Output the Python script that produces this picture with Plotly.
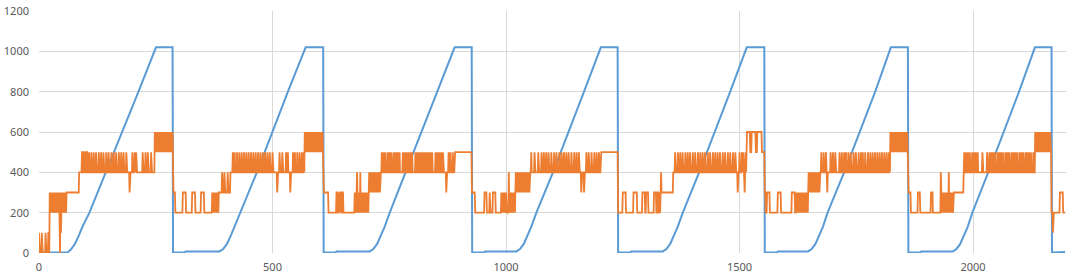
import numpy as np
import plotly.graph_objects as go

# ---- Blue series: polyline vertices (x, value) ----
BLUE_X = [0, 61, 69, 77, 85, 93, 108, 143.5, 213, 250.5, 286,
          287, 312, 314, 386.5, 394.5, 402.5, 410.5, 418.5, 431, 466.5, 533, 571, 608.5,
          609.5, 635, 637, 708, 716, 724, 732, 740, 751, 785, 853, 890, 926.5,
          927.5, 953, 955, 1022, 1030, 1038, 1046, 1054, 1065, 1100.5, 1167, 1203, 1239,
          1240, 1266, 1268, 1335.5, 1343.5, 1351.5, 1359.5, 1367.5, 1378.5, 1413.5, 1480, 1515.5, 1553,
          1554, 1580, 1582, 1646.5, 1654.5, 1662.5, 1670.5, 1678.5, 1688.5, 1724, 1790.5, 1824, 1860.5,
          1861.5, 1887, 1889, 1956.5, 1964.5, 1972.5, 1980.5, 1988.5, 1998.5, 2032.5, 2098.5, 2132.5, 2168,
          2169, 2197]
BLUE_Y = [2, 2, 20, 45, 85, 130, 200, 400, 800, 1020, 1020,
          2, 2, 8, 8, 20, 45, 85, 130, 200, 400, 800, 1020, 1020,
          2, 2, 8, 8, 20, 45, 85, 130, 200, 400, 800, 1020, 1020,
          2, 2, 8, 8, 20, 45, 85, 130, 200, 400, 800, 1020, 1020,
          2, 2, 8, 8, 20, 45, 85, 130, 200, 400, 800, 1020, 1020,
          2, 2, 8, 8, 20, 45, 85, 130, 200, 400, 800, 1020, 1020,
          2, 2, 8, 8, 20, 45, 85, 130, 200, 400, 800, 1020, 1020,
          2, 5]

# ---- Orange series: base level runs (start x, level) ----
ORANGE_LAST_X = 2197
RUN_X = [0, 23, 60, 86, 248, 287, 292,
         386, 410, 569, 609,
         620, 707, 732, 890, 927,
         934, 1021, 1052, 1204, 1240,
         1333, 1358, 1515, 1554,
         1556, 1648, 1673, 1823, 1861,
         1867, 1958, 1980, 2133, 2168]
RUN_Y = [0, 200, 300, 400, 500, 300, 200,
         300, 400, 500, 300,
         200, 300, 400, 500, 300,
         200, 300, 400, 500, 200,
         300, 400, 500, 300,
         200, 300, 400, 500, 300,
         200, 300, 400, 500, 200]

# ---- Orange single samples that leave the base level ----
DEV_0 = [45]
DEV_100 = [0, 6, 14, 20, 21, 47, 2171]
DEV_300 = [23, 25, 27, 29, 31, 33, 35, 37, 39, 41, 43, 46, 49, 51, 53, 55, 57, 59, 194,
           308, 309, 310, 311, 312, 313, 314, 328, 329, 330, 331, 332, 333, 334,
           347, 348, 349, 350, 351, 352, 353, 371, 373, 375, 377, 379, 381, 383, 385, 510, 538,
           637, 638, 639, 642, 645, 646, 647, 650, 651, 676, 678, 680, 682, 684, 686, 690, 692,
           694, 696, 698, 700, 702, 704, 706, 872,
           954, 955, 956, 957, 958, 965, 972, 973, 974, 975, 976, 977, 990, 992, 994, 996, 998,
           1000, 1008, 1010, 1012, 1014, 1016, 1018, 1020, 1161, 1167,
           1250, 1251, 1252, 1253, 1254, 1255, 1256, 1273, 1274, 1275, 1276, 1277, 1278, 1279,
           1280, 1292, 1293, 1294, 1295, 1296, 1297, 1300, 1301, 1302, 1303, 1304, 1317, 1318,
           1319, 1320, 1321, 1324, 1325, 1326, 1329, 1331, 1496, 1511,
           1559, 1560, 1561, 1562, 1563, 1564, 1582, 1583, 1584, 1585, 1586, 1587, 1588, 1612,
           1613, 1614, 1615, 1616, 1617, 1618, 1621, 1623, 1625, 1627, 1629, 1631, 1633, 1635,
           1637, 1639, 1641, 1643, 1645, 1647, 1688,
           1882, 1883, 1884, 1885, 1886, 1910, 1911, 1912, 1913, 1932, 1934, 1936, 1938, 1940,
           1942, 1944, 1946, 1950, 1952, 1954, 1956, 2186, 2187, 2188, 2189, 2190, 2191, 2192]
DEV_400 = [392, 397, 404,
           681, 688, 707, 709, 711, 713, 715, 717, 719, 721, 723, 725, 727, 729, 731,
           1006, 1021, 1023, 1025, 1027, 1029, 1031, 1033, 1035, 1037, 1039, 1041, 1043, 1045,
           1047, 1049, 1051,
           1332,
           1648, 1650, 1652, 1654, 1656, 1658, 1660, 1662, 1664, 1666, 1668, 1670, 1672,
           1931, 1948]
DEV_500 = [92, 93, 97, 98, 102, 103, 107, 112, 117, 122, 128, 133, 138, 144, 149, 155, 160,
           165, 171, 176, 181, 187, 200, 205, 208, 222, 228, 233, 240,
           415, 419, 424, 429, 434, 439, 444, 449, 454, 459, 464, 469, 474, 479, 484, 489, 494,
           500, 515, 521, 529, 533, 544, 548, 553, 558, 563, 567,
           734, 738, 742, 747, 751, 755, 760, 764, 768, 772, 779, 783, 787, 791, 795, 799, 806,
           810, 814, 818, 822, 826, 830, 834, 838, 842, 849, 853, 857, 861, 865, 877, 881, 886,
           1054, 1061, 1069, 1076, 1081, 1086, 1091, 1097, 1103, 1108, 1114, 1119, 1124, 1129,
           1134, 1140, 1146, 1151, 1156, 1172, 1177, 1183, 1189, 1194, 1199, 1203,
           1362, 1368, 1373, 1378, 1384, 1389, 1394, 1400, 1405, 1411, 1416, 1421, 1426, 1432,
           1437, 1443, 1448, 1453, 1458, 1464, 1469, 1475, 1480, 1486, 1491, 1500, 1505, 1508, 1513,
           1675, 1680, 1685, 1695, 1700, 1705, 1714, 1719, 1724, 1728, 1733, 1738, 1744, 1749,
           1755, 1760, 1764, 1769, 1775, 1780, 1785, 1790, 1795, 1800, 1805, 1810, 1815, 1820,
           1981, 1985, 1989, 1993, 1998, 2002, 2006, 2010, 2020, 2030, 2035, 2039, 2043, 2047,
           2052, 2056, 2060, 2064, 2069, 2073, 2077, 2082, 2086, 2090, 2094, 2099, 2103, 2107,
           2112, 2116, 2120, 2124, 2129]
DEV_600 = [248, 250, 252, 254, 256, 258, 260, 262, 264, 266, 268, 270, 272, 274, 276, 278,
           280, 282, 284, 286,
           569, 571, 573, 575, 577, 579, 581, 583, 585, 587, 589, 591, 593, 595, 597, 599, 601,
           603, 605, 607,
           1515, 1516, 1517, 1518, 1519, 1520, 1521, 1522, 1526, 1527, 1528, 1529, 1530, 1531,
           1532, 1533, 1534, 1538, 1539, 1540, 1541, 1542, 1543, 1544, 1545, 1546, 1547,
           1823, 1825, 1827, 1829, 1831, 1833, 1835, 1837, 1839, 1841, 1843, 1845, 1847, 1849,
           1851, 1853, 1855, 1857, 1859,
           2133, 2135, 2137, 2139, 2141, 2143, 2145, 2147, 2149, 2151, 2153, 2155, 2157, 2159,
           2161, 2163, 2165]

X_TICKS = [0, 500, 1000, 1500, 2000]
Y_TICKS = [0, 200, 400, 600, 800, 1000, 1200]

# ---- decode orange samples (one per integer x) ----
ox = np.arange(0, ORANGE_LAST_X + 1)
idx = np.searchsorted(np.array(RUN_X), ox, side="right") - 1
oy = np.array(RUN_Y)[idx].astype(float)
for lst, val in ((DEV_300, 300), (DEV_400, 400), (DEV_500, 500), (DEV_600, 600),
                 (DEV_0, 0), (DEV_100, 100)):
    oy[np.array(lst)] = val

fig = go.Figure()
fig.add_trace(go.Scatter(x=BLUE_X, y=BLUE_Y, mode="lines",
                         line=dict(color="#5B9BD5", width=2), showlegend=False))
fig.add_trace(go.Scatter(x=ox, y=oy, mode="lines",
                         line=dict(color="#ED7D31", width=1.8), showlegend=False))

font = dict(family="Noto Sans, Open Sans, sans-serif", size=11, color="#595959")
fig.update_layout(
    width=1066, height=278,
    margin=dict(l=39, r=0, t=11, b=25, pad=0),
    paper_bgcolor="white", plot_bgcolor="white",
    font=font,
    xaxis=dict(range=[0, 2199], tickvals=X_TICKS, ticktext=[str(v) for v in X_TICKS],
               showgrid=True, gridcolor="#D9D9D9", gridwidth=1,
               zeroline=False, showline=False, ticks="", ticklabelstandoff=6,
               tickfont=font),
    yaxis=dict(range=[0, 1200], tickvals=Y_TICKS, ticktext=[str(v) for v in Y_TICKS],
               showgrid=True, gridcolor="#D9D9D9", gridwidth=1,
               zeroline=False, showline=False, ticks="", ticklabelstandoff=9,
               tickfont=font),
)
fig.write_html("out.html")
